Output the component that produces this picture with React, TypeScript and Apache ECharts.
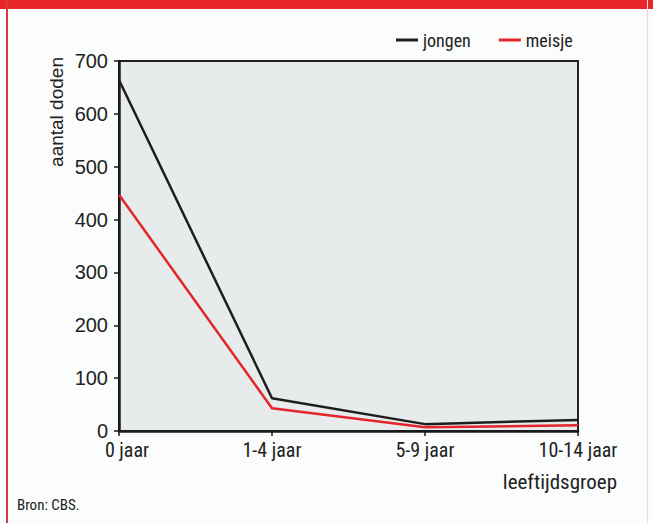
import React, { useEffect, useRef } from "react";
import * as echarts from "echarts";

const categories = ["0 jaar", "1-4 jaar", "5-9 jaar", "10-14 jaar"];
const jongen = [664, 62, 13, 21];
const meisje = [447, 43, 7, 11];
const yTicks = [0, 100, 200, 300, 400, 500, 600, 700];

const condensed = '"Liberation Sans Narrow", "Roboto Condensed", "Noto Sans", sans-serif';

export default function App() {
  const ref = useRef<HTMLDivElement>(null);
  useEffect(() => {
    if (!ref.current) return;
    const chart = echarts.init(ref.current, null, { renderer: "svg" });
    chart.setOption({
      animation: false,
      backgroundColor: "#fbfcfc",
      legend: {
        left: 391,
        top: 26,
        itemWidth: 22,
        itemHeight: 3,
        itemGap: 28,
        icon: "rect",
        textStyle: { fontFamily: condensed, fontSize: 18, color: "#222" },
        data: ["jongen", "meisje"],
      },
      grid: {
        left: 119,
        right: 75,
        top: 61,
        bottom: 92,
        show: true,
        backgroundColor: "#e7ebeb",
        borderColor: "#222",
        borderWidth: 2,
      },
      xAxis: {
        type: "category",
        data: categories,
        boundaryGap: false,
        axisLine: { lineStyle: { color: "#1a1a1a", width: 2.5 } },
        axisTick: { show: true, length: 5, alignWithLabel: true, lineStyle: { color: "#1a1a1a", width: 1.5 } },
        axisLabel: {
          fontFamily: condensed,
          fontSize: 20,
          color: "#222",
          margin: 9,
          formatter: (v: string, i: number) => (i === 0 ? "{first|" + v + "}" : v),
          rich: {
            first: { fontFamily: condensed, fontSize: 20, color: "#222", padding: [0, 0, 0, 16] },
          },
        },
        splitLine: { show: false },
      },
      yAxis: {
        type: "value",
        min: yTicks[0],
        max: yTicks[yTicks.length - 1],
        interval: 100,
        axisLine: { show: true, lineStyle: { color: "#1a1a1a", width: 2.5 } },
        axisTick: { show: true, length: 5, lineStyle: { color: "#1a1a1a", width: 1.5 } },
        axisLabel: { fontFamily: '"Liberation Sans", Arial, sans-serif', fontSize: 20, color: "#222", margin: 11 },
        splitLine: { show: false },
      },
      series: [
        {
          name: "jongen",
          type: "line",
          data: jongen,
          symbol: "none",
          color: "#1e1e1e",
          lineStyle: { width: 2.5, color: "#1e1e1e" },
        },
        {
          name: "meisje",
          type: "line",
          data: meisje,
          symbol: "none",
          color: "#e4262b",
          lineStyle: { width: 2.5, color: "#e4262b" },
        },
      ],
      graphic: [
        { type: "rect", shape: { x: 0, y: 0, width: 653, height: 9 }, style: { fill: "#e8262a" } },
        { type: "rect", shape: { x: 6, y: 0, width: 2, height: 523 }, style: { fill: "#d9393c" } },
        { type: "rect", shape: { x: 647, y: 0, width: 1, height: 523 }, style: { fill: "#f6d6da" } },
        {
          type: "text",
          x: 56,
          y: 112,
          rotation: Math.PI / 2,
          style: {
            text: "aantal doden",
            fontFamily: '"Liberation Sans", Arial, sans-serif',
            fontSize: 19,
            fill: "#222",
            textAlign: "center",
            textVerticalAlign: "middle",
          },
        },
        {
          type: "text",
          x: 617,
          y: 482,
          style: {
            text: "leeftijdsgroep",
            fontFamily: condensed,
            fontSize: 21,
            fill: "#222",
            textAlign: "right",
            textVerticalAlign: "middle",
          },
        },
        {
          type: "text",
          x: 17,
          y: 505,
          style: {
            text: "Bron: CBS.",
            fontFamily: condensed,
            fontSize: 15,
            fill: "#222",
            textAlign: "left",
            textVerticalAlign: "middle",
          },
        },
      ],
    });
    return () => chart.dispose();
  }, []);
  return (
    <div
      ref={ref}
      style={{ position: "fixed", left: 0, top: 0, width: 653, height: 523 }}
    />
  );
}
